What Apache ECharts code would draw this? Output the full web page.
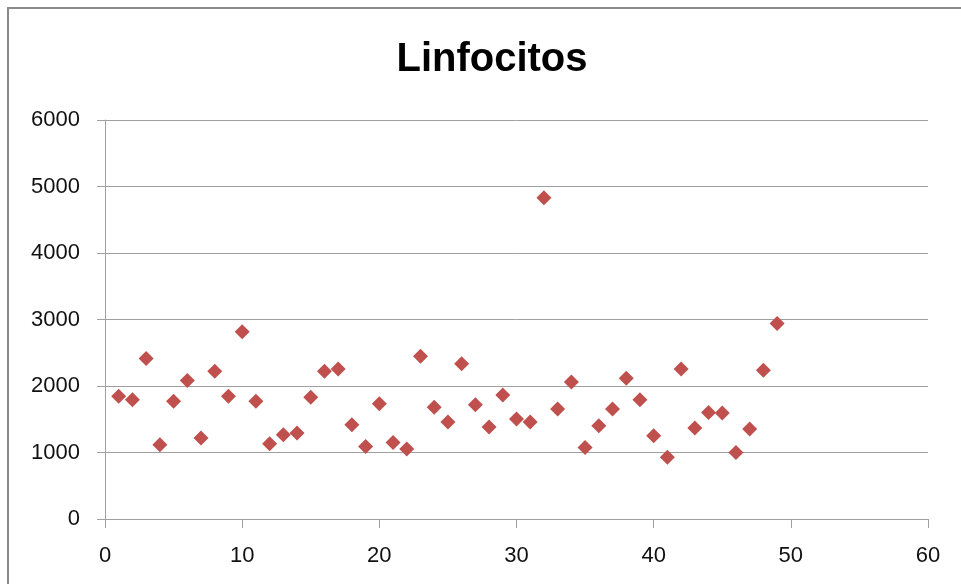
<!DOCTYPE html>
<html>
<head>
<meta charset="utf-8">
<script src="https://cdn.jsdelivr.net/npm/echarts@6/dist/echarts.min.js"></script>
<style>
  html, body { margin: 0; padding: 0; background: #fff; }
  #chart { width: 961px; height: 584px; }
</style>
</head>
<body>
<div id="chart"></div>
<script>
// Patient index (1..49) and lymphocyte count per patient
const patients = [
  1, 2, 3, 4, 5, 6, 7, 8, 9, 10,
  11, 12, 13, 14, 15, 16, 17, 18, 19, 20,
  21, 22, 23, 24, 25, 26, 27, 28, 29, 30,
  31, 32, 33, 34, 35, 36, 37, 38, 39, 40,
  41, 42, 43, 44, 45, 46, 47, 48, 49
];
const linfocitos = [
  1845, 1795, 2413, 1116, 1769, 2081, 1217, 2222, 1845, 2815,
  1769, 1131, 1267, 1292, 1830, 2222, 2257, 1418, 1091, 1734,
  1151, 1051, 2448, 1679, 1458, 2333, 1719, 1383, 1865, 1503,
  1458, 4830, 1654, 2061, 1076, 1402, 1654, 2116, 1795, 1252,
  930, 2257, 1368, 1603, 1594, 1000, 1353, 2236, 2941
];
const xTicks = { min: 0, max: 60, step: 10 };
const yTicks = { min: 0, max: 6000, step: 1000 };

const chart = echarts.init(document.getElementById('chart'), null, { renderer: 'canvas' });
const axisGray = '#a0a0a0';
const labelFont = { color: '#111', fontFamily: 'Liberation Sans', fontSize: 22 };

chart.setOption({
  animation: false,
  backgroundColor: '#fff',
  title: {
    text: 'Linfocitos',
    left: 487,
    textAlign: 'center',
    top: 35,
    textStyle: { fontFamily: 'Liberation Sans', fontWeight: 'bold', fontSize: 40, color: '#000' }
  },
  graphic: [{
    type: 'rect',
    shape: { x: 8, y: 8, width: 1000, height: 1000 },
    style: { fill: 'none', stroke: '#8a8a8a', lineWidth: 2 },
    silent: true
  }],
  grid: { left: 105, right: 33, top: 120, bottom: 65 },
  xAxis: {
    type: 'value',
    min: xTicks.min, max: xTicks.max, interval: xTicks.step,
    axisLine: { show: true, lineStyle: { color: axisGray, width: 1 } },
    axisTick: { show: true, length: 9, lineStyle: { color: axisGray } },
    splitLine: { show: false },
    axisLabel: Object.assign({ margin: 26, formatter: v => String(v) }, labelFont)
  },
  yAxis: {
    type: 'value',
    min: yTicks.min, max: yTicks.max, interval: yTicks.step,
    axisLine: { show: true, lineStyle: { color: axisGray, width: 1 } },
    axisTick: { show: true, length: 8, lineStyle: { color: axisGray } },
    splitLine: { show: true, lineStyle: { color: axisGray, width: 1 } },
    axisLabel: Object.assign({ margin: 25, formatter: v => String(v) }, labelFont)
  },
  series: [{
    type: 'scatter',
    symbol: 'diamond',
    symbolSize: 15,
    itemStyle: { color: '#c0504d', opacity: 1 },
    data: patients.map((p, i) => [p, linfocitos[i]])
  }]
});
</script>
</body>
</html>
